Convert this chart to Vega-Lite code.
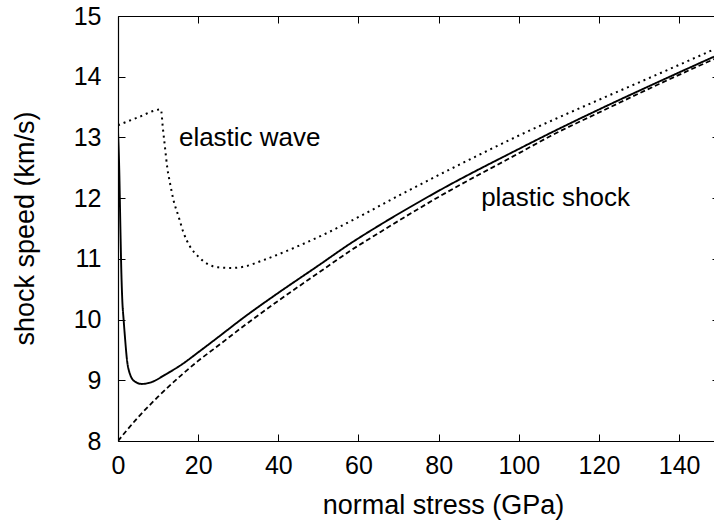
{
  "$schema": "https://vega.github.io/schema/vega-lite/v6.json",
  "autosize": "none",
  "width": 596,
  "height": 425,
  "padding": {"left": 118, "top": 16, "right": 0, "bottom": 88},
  "background": "white",
  "config": {
    "view": {"stroke": null},
    "font": "Liberation Sans",
    "axis": {
      "grid": false,
      "domainColor": "black",
      "domainWidth": 1.2,
      "tickColor": "black",
      "tickWidth": 1,
      "tickSize": -7,
      "labelFlush": false,
      "labelFont": "Liberation Sans",
      "labelFontSize": 25,
      "labelColor": "black",
      "titleFont": "Liberation Sans",
      "titleFontSize": 27,
      "titleFontWeight": "normal",
      "titleColor": "black"
    }
  },
  "datasets": {
    "curves": [
      {"series": "elastic", "stress": 0, "speed": 13.2},
      {"series": "elastic", "stress": 5, "speed": 13.33},
      {"series": "elastic", "stress": 10.7, "speed": 13.46},
      {"series": "elastic", "stress": 11.2, "speed": 13.15},
      {"series": "elastic", "stress": 11.7, "speed": 12.85},
      {"series": "elastic", "stress": 12.3, "speed": 12.5},
      {"series": "elastic", "stress": 13.0, "speed": 12.24},
      {"series": "elastic", "stress": 13.8, "speed": 11.98},
      {"series": "elastic", "stress": 15.1, "speed": 11.7},
      {"series": "elastic", "stress": 16.3, "speed": 11.44},
      {"series": "elastic", "stress": 18.0, "speed": 11.2},
      {"series": "elastic", "stress": 20.0, "speed": 11.04},
      {"series": "elastic", "stress": 22.5, "speed": 10.91},
      {"series": "elastic", "stress": 25.0, "speed": 10.86},
      {"series": "elastic", "stress": 28.0, "speed": 10.85},
      {"series": "elastic", "stress": 31.3, "speed": 10.87},
      {"series": "elastic", "stress": 36.3, "speed": 10.98},
      {"series": "elastic", "stress": 44.6, "speed": 11.2},
      {"series": "elastic", "stress": 52.9, "speed": 11.45},
      {"series": "elastic", "stress": 61.2, "speed": 11.73},
      {"series": "elastic", "stress": 70, "speed": 12.04},
      {"series": "elastic", "stress": 80, "speed": 12.38},
      {"series": "elastic", "stress": 90, "speed": 12.71},
      {"series": "elastic", "stress": 100.3, "speed": 13.04},
      {"series": "elastic", "stress": 110, "speed": 13.33},
      {"series": "elastic", "stress": 120, "speed": 13.62},
      {"series": "elastic", "stress": 135, "speed": 14.05},
      {"series": "elastic", "stress": 148.7, "speed": 14.45},
      {"series": "plastic", "stress": 0, "speed": 13.1},
      {"series": "plastic", "stress": 0.3, "speed": 12.5},
      {"series": "plastic", "stress": 0.6, "speed": 11.5},
      {"series": "plastic", "stress": 0.85, "speed": 10.75},
      {"series": "plastic", "stress": 1.07, "speed": 10.32},
      {"series": "plastic", "stress": 1.4, "speed": 10.0},
      {"series": "plastic", "stress": 1.75, "speed": 9.7},
      {"series": "plastic", "stress": 2.2, "speed": 9.36},
      {"series": "plastic", "stress": 3.0, "speed": 9.1},
      {"series": "plastic", "stress": 4.2, "speed": 8.98},
      {"series": "plastic", "stress": 5.9, "speed": 8.94},
      {"series": "plastic", "stress": 8.4, "speed": 8.97},
      {"series": "plastic", "stress": 11.7, "speed": 9.09},
      {"series": "plastic", "stress": 15.9, "speed": 9.26},
      {"series": "plastic", "stress": 20.0, "speed": 9.46},
      {"series": "plastic", "stress": 24.2, "speed": 9.67},
      {"series": "plastic", "stress": 31.7, "speed": 10.05},
      {"series": "plastic", "stress": 40, "speed": 10.44},
      {"series": "plastic", "stress": 50, "speed": 10.89},
      {"series": "plastic", "stress": 57.9, "speed": 11.25},
      {"series": "plastic", "stress": 65.4, "speed": 11.56},
      {"series": "plastic", "stress": 80, "speed": 12.12},
      {"series": "plastic", "stress": 100.3, "speed": 12.82},
      {"series": "plastic", "stress": 107.8, "speed": 13.07},
      {"series": "plastic", "stress": 120, "speed": 13.46},
      {"series": "plastic", "stress": 135, "speed": 13.92},
      {"series": "plastic", "stress": 148.7, "speed": 14.33},
      {"series": "hydro", "stress": 0, "speed": 8.0},
      {"series": "hydro", "stress": 2, "speed": 8.16},
      {"series": "hydro", "stress": 5, "speed": 8.39},
      {"series": "hydro", "stress": 7.6, "speed": 8.57},
      {"series": "hydro", "stress": 10, "speed": 8.73},
      {"series": "hydro", "stress": 15.9, "speed": 9.09},
      {"series": "hydro", "stress": 20, "speed": 9.32},
      {"series": "hydro", "stress": 24.2, "speed": 9.53},
      {"series": "hydro", "stress": 31.7, "speed": 9.91},
      {"series": "hydro", "stress": 40, "speed": 10.31},
      {"series": "hydro", "stress": 50, "speed": 10.77},
      {"series": "hydro", "stress": 57.9, "speed": 11.13},
      {"series": "hydro", "stress": 65.4, "speed": 11.44},
      {"series": "hydro", "stress": 80, "speed": 12.02},
      {"series": "hydro", "stress": 100.3, "speed": 12.75},
      {"series": "hydro", "stress": 107.8, "speed": 13.02},
      {"series": "hydro", "stress": 120, "speed": 13.41},
      {"series": "hydro", "stress": 135, "speed": 13.88},
      {"series": "hydro", "stress": 148.7, "speed": 14.29}
    ],
    "one": [{}]
  },
  "resolve": {"axis": {"x": "independent", "y": "independent"}},
  "layer": [
    {
      "data": {"name": "curves"},
      "mark": {"type": "line", "color": "black", "interpolate": "monotone", "clip": true},
      "encoding": {
        "x": {
          "field": "stress", "type": "quantitative",
          "scale": {"domain": [0, 148.7], "nice": false, "zero": false},
          "axis": {"orient": "bottom", "values": [0, 20, 40, 60, 80, 100, 120, 140], "labelPadding": 19, "title": "normal stress (GPa)", "titleX": 325, "titleY": 51, "titleBaseline": "top", "titleAnchor": null}
        },
        "y": {
          "field": "speed", "type": "quantitative",
          "scale": {"domain": [8, 15], "nice": false, "zero": false},
          "axis": {"orient": "left", "values": [8, 9, 10, 11, 12, 13, 14, 15], "labelPadding": 24, "title": "shock speed (km/s)", "titleX": -79, "titleY": 212, "titleAngle": -90, "titleBaseline": "bottom"}
        },
        "strokeDash": {
          "field": "series", "type": "nominal",
          "scale": {"domain": ["elastic", "plastic", "hydro"], "range": [[2, 4], [1, 0], [5, 3]]},
          "legend": null
        },
        "strokeWidth": {
          "field": "series", "type": "nominal",
          "scale": {"domain": ["elastic", "plastic", "hydro"], "range": [2, 1.8, 1.6]},
          "legend": null
        },
        "detail": {"field": "series"}
      }
    },
    {
      "data": {"name": "one"},
      "mark": {"type": "text", "text": "elastic wave", "align": "left", "baseline": "middle", "fontSize": 26, "font": "Liberation Sans", "color": "black"},
      "encoding": {
        "x": {"datum": 15.2, "type": "quantitative", "axis": {"orient": "top", "values": [0, 20, 40, 60, 80, 100, 120, 140], "labels": false, "title": null}},
        "y": {"datum": 12.99, "type": "quantitative", "axis": {"orient": "right", "values": [8, 9, 10, 11, 12, 13, 14, 15], "labels": false, "title": null, "domain": false, "tickSize": -2}}
      }
    },
    {
      "data": {"name": "one"},
      "mark": {"type": "text", "text": "plastic shock", "align": "left", "baseline": "middle", "fontSize": 26, "font": "Liberation Sans", "color": "black"},
      "encoding": {
        "x": {"datum": 90.6, "type": "quantitative", "axis": null},
        "y": {"datum": 12.0, "type": "quantitative", "axis": null}
      }
    }
  ]
}
